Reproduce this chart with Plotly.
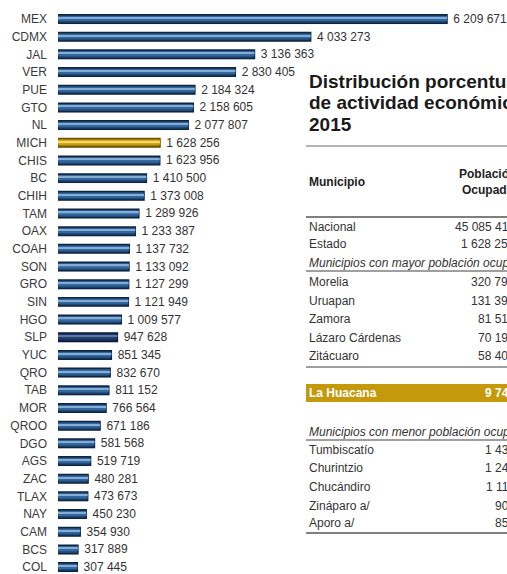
import plotly.graph_objects as go

# Población ocupada por entidad federativa, 2015
estados = ["MEX", "CDMX", "JAL", "VER", "PUE", "GTO", "NL", "MICH", "CHIS", "BC",
           "CHIH", "TAM", "OAX", "COAH", "SON", "GRO", "SIN", "HGO", "SLP", "YUC",
           "QRO", "TAB", "MOR", "QROO", "DGO", "AGS", "ZAC", "TLAX", "NAY", "CAM",
           "BCS", "COL"]
poblacion = [6209671, 4033273, 3136363, 2830405, 2184324, 2158605, 2077807, 1628256,
             1623956, 1410500, 1373008, 1289926, 1233387, 1137732, 1133092, 1127299,
             1121949, 1009577, 947628, 851345, 832670, 811152, 766564, 671186,
             581568, 519719, 480281, 473673, 450230, 354930, 317889, 307445]
estado_resaltado = "MICH"
estado_oscuro = "SLP"

# tabla de municipios (el último dígito queda fuera del recorte)
ref_nombres = ["Nacional", "Estado"]
ref_valores = [45085417, 1628256]
mayor_titulo = "Municipios con mayor población ocupada"
mayor_nombres = ["Morelia", "Uruapan", "Zamora", "Lázaro Cárdenas", "Zitácuaro"]
mayor_valores = [320795, 131393, 81514, 70193, 58402]
huacana_nombre = "La Huacana"
huacana_valor = 9741
menor_titulo = "Municipios con menor población ocupada"
menor_nombres = ["Tumbiscatío", "Churintzio", "Chucándiro", "Zináparo a/", "Aporo a/"]
menor_valores = [1432, 1245, 1118, 903, 851]

W, H = 507, 574
FONT = "Arial, Liberation Sans, sans-serif"


def fmt(v):
    return f"{v:,}".replace(",", " ")


def px(x):
    return x / W


def py(y):
    return 1 - y / H


def colores(normal, oro, marino):
    out = []
    for e in estados:
        if e == estado_resaltado:
            out.append(oro)
        elif e == estado_oscuro:
            out.append(marino)
        else:
            out.append(normal)
    return out


fig = go.Figure()

# sombra
fig.add_trace(go.Bar(
    x=poblacion, y=estados, orientation="h", width=0.48, offset=-0.19,
    marker=dict(color="rgba(0,0,0,0.13)", line=dict(width=0)),
    hoverinfo="skip", showlegend=False))

# cuerpo de la barra + etiquetas
fig.add_trace(go.Bar(
    x=poblacion, y=estados, orientation="h", width=0.48, offset=-0.24,
    marker=dict(color=colores("#1f4a78", "#a17d05", "#152d57"),
                line=dict(color=colores("#0f2540", "#6a5200", "#0b1a36"), width=1.5)),
    text=["\u00a0" + fmt(v) for v in poblacion], textposition="outside", cliponaxis=False,
    constraintext="none",
    textfont=dict(family=FONT, size=12, color="#333333"),
    hoverinfo="skip", showlegend=False))

# brillo
fig.add_trace(go.Bar(
    x=poblacion, y=estados, orientation="h", width=0.28, offset=-0.17,
    marker=dict(color=colores("#33689f", "#d2a816", "#233f70"), line=dict(width=0)),
    hoverinfo="skip", showlegend=False))
fig.add_trace(go.Bar(
    x=poblacion, y=estados, orientation="h", width=0.07, offset=-0.09,
    marker=dict(color=colores("#86acd4", "#f3d872", "#5b78a5"), line=dict(width=0)),
    hoverinfo="skip", showlegend=False))

# escala: la barra de MEX va de x=58 a x=447 px
x0, x_mex = 58, 447
xmax = max(poblacion) * (W - x0) / (x_mex - x0)
row0, step = 19, 17.68

fig.update_layout(
    width=W, height=H,
    margin=dict(l=0, r=0, t=0, b=0),
    paper_bgcolor="white", plot_bgcolor="white",
    barmode="overlay", hovermode=False, showlegend=False,
    xaxis=dict(domain=[px(x0), 1], range=[0, xmax], visible=False, fixedrange=True),
    yaxis=dict(domain=[0, 1], type="category", range=[(H - row0) / step, -row0 / step],
               showgrid=False, zeroline=False, showline=False, ticks="",
               ticklabelstandoff=10, automargin=False, fixedrange=True,
               tickfont=dict(family=FONT, size=12, color="#3a3a3a")),
)

# ---- tabla a la derecha ----
TX = 307
ann = []
for texto, y in [("Distribución porcentual", 82), ("de actividad económica", 103), ("2015", 124)]:
    ann.append(dict(x=px(TX), y=py(y), text="<b>" + texto + "</b>", xanchor="left",
                    font=dict(family=FONT, size=19, color="#1a1a1a")))

ann.append(dict(x=px(TX), y=py(182), text="<b>Municipio</b>", xanchor="left",
                font=dict(family=FONT, size=12, color="#222222")))
ann.append(dict(x=px(487), y=py(182), text="<b>Población<br>Ocupada</b>", xanchor="center",
                align="center", font=dict(family=FONT, size=12, color="#222222")))

R = 517
celda = dict(family=FONT, size=12, color="#333333")
for nombre, valor, y in zip(ref_nombres, ref_valores, [227, 244]):
    ann.append(dict(x=px(TX), y=py(y), text=nombre, xanchor="left", font=celda))
    ann.append(dict(x=px(R), y=py(y), text=fmt(valor), xanchor="right", font=celda))

ann.append(dict(x=px(TX), y=py(263), text="<i>" + mayor_titulo + "</i>", xanchor="left", font=celda))
for nombre, valor, y in zip(mayor_nombres, mayor_valores, [282, 301, 319, 338, 356]):
    ann.append(dict(x=px(TX), y=py(y), text=nombre, xanchor="left", font=celda))
    ann.append(dict(x=px(R), y=py(y), text=fmt(valor), xanchor="right", font=celda))

blanco = dict(family=FONT, size=12, color="white")
ann.append(dict(x=px(TX), y=py(393), text="<b>" + huacana_nombre + "</b>", xanchor="left", font=blanco))
ann.append(dict(x=px(R), y=py(393), text="<b>" + fmt(huacana_valor) + "</b>", xanchor="right", font=blanco))

ann.append(dict(x=px(TX), y=py(432), text="<i>" + menor_titulo + "</i>", xanchor="left", font=celda))
for nombre, valor, y in zip(menor_nombres, menor_valores, [450, 468, 487, 506, 523]):
    ann.append(dict(x=px(TX), y=py(y), text=nombre, xanchor="left", font=celda))
    ann.append(dict(x=px(R), y=py(y), text=fmt(valor), xanchor="right", font=celda))

for a in ann:
    a.update(xref="paper", yref="paper", showarrow=False, yanchor="middle")
fig.update_layout(annotations=ann)

lineas = [(146, "#9a9a9a", 1.5), (217, "#7f7f7f", 2), (271, "#7f7f7f", 1.5),
          (367, "#7f7f7f", 1.5), (440, "#7f7f7f", 1.5), (533, "#7f7f7f", 2)]
for y, c, w in lineas:
    fig.add_shape(type="line", xref="paper", yref="paper", x0=px(306), x1=1,
                  y0=py(y), y1=py(y), line=dict(color=c, width=w))
fig.add_shape(type="rect", xref="paper", yref="paper", x0=px(306), x1=1,
              y0=py(402), y1=py(384), fillcolor="#c49a0c", line=dict(width=0), layer="below")

# quitar el margen por defecto del body para que la figura ocupe toda la ventana
fig.write_html("out.html", config={"displayModeBar": False},
               post_script="document.body.style.margin='0px';")
